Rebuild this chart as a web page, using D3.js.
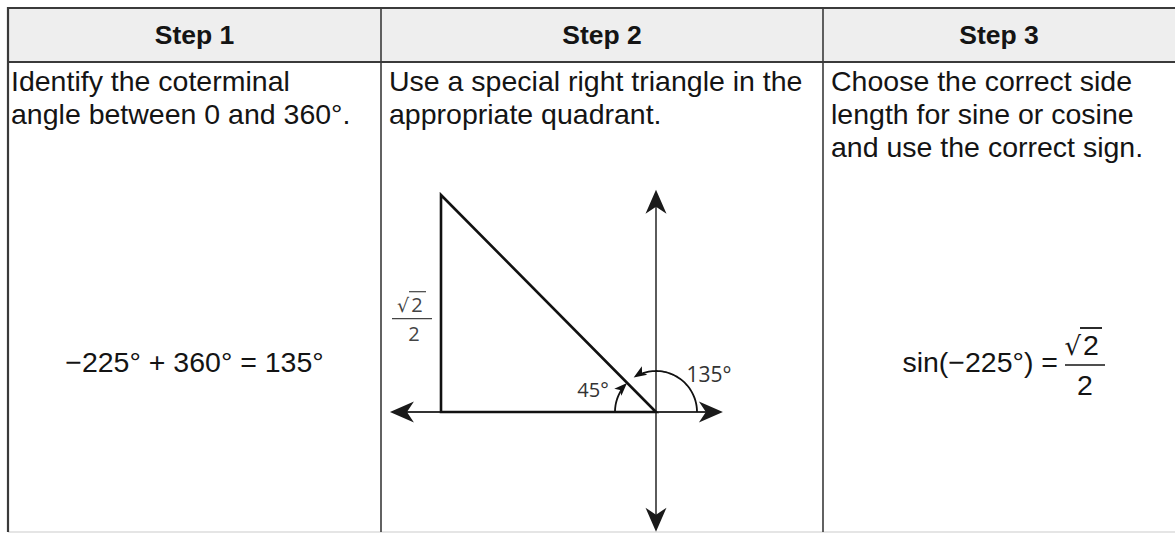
<!DOCTYPE html>
<html>
<head>
<meta charset="utf-8">
<script src="https://cdn.jsdelivr.net/npm/d3@7"></script>
<style>
  html, body { margin: 0; padding: 0; background: #fff; }
  svg { display: block; }
</style>
</head>
<body>
<script>
// ---------------- data ----------------
const steps = ["Step 1", "Step 2", "Step 3"];
const instructions = [
  ["Identify the coterminal", "angle between 0 and 360°."],
  ["Use a special right triangle in the", "appropriate quadrant."],
  ["Choose the correct side", "length for sine or cosine", "and use the correct sign."]
];
const equationStep1 = ["−225°", "+", "360°", "=", "135°"];
const equationStep3Left = "sin(−225°) =";
const fractionParts = ["2", "2"];          // √2 over 2
const triangleLeg = [Math.SQRT1_2];         // leg length √2/2 of the special right triangle
const referenceAngle = [45];                // degrees
const terminalAngle = [135];                // degrees
const angleLabels = ["45°", "135°"];
const axisExtentX = [-0.875, 0.22];         // unit-circle coordinates shown by the axes
const axisExtentY = [-0.39, 0.724];

// ---------------- layout ----------------
const W = 1175, H = 538;
const colEdges = [8, 381, 823, 1175];
const textStarts = [11, 389, 831];
const tableTop = 8, headerBottom = 62, tableBottom = 532;
const bodyFont = "'Liberation Sans', Arial, Helvetica, sans-serif";
const labelFont = "'Open Sans', 'Liberation Sans', sans-serif";
const ink = "#141414";
const bodySize = 28.5;

const svg = d3.select("body").append("svg")
  .attr("width", W).attr("height", H)
  .attr("viewBox", `0 0 ${W} ${H}`);

svg.append("rect").attr("width", W).attr("height", H).attr("fill", "#fff");

// header background
svg.append("rect")
  .attr("x", colEdges[0]).attr("y", tableTop)
  .attr("width", W - colEdges[0]).attr("height", headerBottom - tableTop)
  .attr("fill", "#eeeeee");

// bottom faint line
svg.append("line")
  .attr("x1", colEdges[0]).attr("x2", W).attr("y1", tableBottom).attr("y2", tableBottom)
  .attr("stroke", "#dcdcdc").attr("stroke-width", 1.5);

// horizontal rules
[tableTop, headerBottom].forEach(yy => {
  svg.append("line")
    .attr("x1", colEdges[0]).attr("x2", W).attr("y1", yy).attr("y2", yy)
    .attr("stroke", "#3a3a3a").attr("stroke-width", 2);
});

// vertical rules
colEdges.slice(0, 3).forEach((xx, i) => {
  svg.append("line")
    .attr("x1", xx).attr("x2", xx).attr("y1", tableTop - 1).attr("y2", tableBottom)
    .attr("stroke", "#3a3a3a").attr("stroke-width", i === 0 ? 2.2 : 1.6);
});

// header labels
svg.selectAll("text.head").data(steps).join("text")
  .attr("class", "head")
  .attr("x", (d, i) => (colEdges[i] + colEdges[i + 1]) / 2)
  .attr("y", 44)
  .attr("text-anchor", "middle")
  .attr("font-family", bodyFont).attr("font-weight", "bold")
  .attr("font-size", 26.5).attr("fill", ink)
  .text(d => d);

// instructions
const lineH = 33;
instructions.forEach((lines, i) => {
  svg.append("g").selectAll("text").data(lines).join("text")
    .attr("x", textStarts[i])
    .attr("y", (d, j) => 91 + j * lineH)
    .attr("font-family", bodyFont).attr("font-size", bodySize).attr("fill", ink)
    .text(d => d);
});

// Step 1 equation
svg.append("text")
  .attr("x", (colEdges[0] + colEdges[1]) / 2).attr("y", 372)
  .attr("text-anchor", "middle")
  .attr("font-family", bodyFont).attr("font-size", bodySize).attr("fill", ink)
  .attr("xml:space", "preserve")
  .text(equationStep1.join(" "));

// Step 3 equation
{
  const baseY = 372;
  const leftEnd = 1058;
  svg.append("text")
    .attr("x", leftEnd).attr("y", baseY)
    .attr("text-anchor", "end")
    .attr("font-family", bodyFont).attr("font-size", bodySize).attr("fill", ink)
    .text(equationStep3Left);
  const fx = 1085, barY = 365;
  svg.append("line")
    .attr("x1", fx - 20).attr("x2", fx + 20).attr("y1", barY).attr("y2", barY)
    .attr("stroke", ink).attr("stroke-width", 1.6);
  svg.append("text")
    .attr("x", fx - 4).attr("y", 355).attr("text-anchor", "end")
    .attr("font-family", "'DejaVu Sans', sans-serif").attr("font-size", 26).attr("fill", ink)
    .text("√");
  svg.append("line")
    .attr("x1", fx - 5).attr("x2", fx + 17).attr("y1", 328).attr("y2", 328)
    .attr("stroke", ink).attr("stroke-width", 1.8);
  svg.append("text")
    .attr("x", fx + 6).attr("y", 355).attr("text-anchor", "middle")
    .attr("font-family", bodyFont).attr("font-size", bodySize).attr("fill", ink)
    .text(fractionParts[0]);
  svg.append("text")
    .attr("x", fx).attr("y", 395).attr("text-anchor", "middle")
    .attr("font-family", bodyFont).attr("font-size", bodySize).attr("fill", ink)
    .text(fractionParts[1]);
}

// ---------------- Step 2 diagram ----------------
const leg = triangleLeg[0];
const x = d3.scaleLinear().domain([-leg, 0]).range([441, 656]);
const y = d3.scaleLinear().domain([0, leg]).range([412, 195]);
const ox = x(0), oy = y(0);
const g = svg.append("g");

function arrowHead(tx, ty, dirX, dirY, len, halfW, notch) {
  const n = Math.hypot(dirX, dirY); dirX /= n; dirY /= n;
  const px = -dirY, py = dirX;
  const bx = tx - dirX * len, by = ty - dirY * len;
  const nx = tx - dirX * (len - notch), ny = ty - dirY * (len - notch);
  return `M${tx},${ty}L${bx + px * halfW},${by + py * halfW}L${nx},${ny}L${bx - px * halfW},${by - py * halfW}Z`;
}

// axes
g.append("line")
  .attr("x1", x(axisExtentX[0]) + 10).attr("x2", x(axisExtentX[1]) - 10)
  .attr("y1", oy).attr("y2", oy)
  .attr("stroke", "#333").attr("stroke-width", 1.8);
g.append("line")
  .attr("x1", ox).attr("x2", ox)
  .attr("y1", y(axisExtentY[1]) + 10).attr("y2", y(axisExtentY[0]) - 10)
  .attr("stroke", "#333").attr("stroke-width", 1.6);
const axisArrows = [
  [x(axisExtentX[0]), oy, -1, 0],
  [x(axisExtentX[1]), oy, 1, 0],
  [ox, y(axisExtentY[1]), 0, -1],
  [ox, y(axisExtentY[0]), 0, 1]
];
g.selectAll("path.axarrow").data(axisArrows).join("path")
  .attr("class", "axarrow")
  .attr("d", d => arrowHead(d[0], d[1], d[2], d[3], 24, 10.5, 7))
  .attr("fill", "#1a1a1a");

// triangle
const tri = [[-leg, 0], [-leg, leg], [0, 0]];
g.append("path")
  .attr("d", d3.line().x(d => x(d[0])).y(d => y(d[1]))(tri) + "Z")
  .attr("fill", "none").attr("stroke", "#111").attr("stroke-width", 2.6)
  .attr("stroke-linejoin", "miter");

// angle arcs
const rPix = 41;
function arcPoints(a0, a1) {
  const pts = [];
  const nSeg = 40;
  for (let k = 0; k <= nSeg; k++) {
    const a = (a0 + (a1 - a0) * k / nSeg) * Math.PI / 180;
    pts.push([ox + rPix * Math.cos(a), oy - rPix * Math.sin(a)]);
  }
  return pts;
}
function drawAngleArc(a0, aTip, headLen) {
  const dirSign = Math.sign(aTip - a0);
  const tipRad = aTip * Math.PI / 180;
  const tip = [ox + rPix * Math.cos(tipRad), oy - rPix * Math.sin(tipRad)];
  const dx = -Math.sin(tipRad) * dirSign, dy = -Math.cos(tipRad) * dirSign;
  const backAngle = aTip - dirSign * (headLen / rPix) * 180 / Math.PI * 0.8;
  g.append("path")
    .attr("d", d3.line()(arcPoints(a0, backAngle)))
    .attr("fill", "none").attr("stroke", "#111").attr("stroke-width", 1.8);
  g.append("path")
    .attr("d", arrowHead(tip[0], tip[1], dx, dy, headLen, 5, 3))
    .attr("fill", "#111");
}
drawAngleArc(180, 180 - referenceAngle[0], 13);
drawAngleArc(0, terminalAngle[0] - 12, 13);

// labels
g.append("text")
  .attr("x", 593).attr("y", 397).attr("text-anchor", "middle")
  .attr("font-family", labelFont).attr("font-size", 20).attr("fill", "#333")
  .text(angleLabels[0]);
g.append("text")
  .attr("x", 709).attr("y", 382).attr("text-anchor", "middle")
  .attr("font-family", labelFont).attr("font-size", 21).attr("fill", "#333")
  .text(angleLabels[1]);

// √2/2 side label
{
  const lx = x(-leg) - 29, barY = y(leg * 0.43);
  g.append("line")
    .attr("x1", lx - 20).attr("x2", lx + 20).attr("y1", barY).attr("y2", barY)
    .attr("stroke", "#444").attr("stroke-width", 1.3);
  g.append("text")
    .attr("x", lx - 3).attr("y", barY - 7).attr("text-anchor", "end")
    .attr("font-family", "'DejaVu Sans', sans-serif").attr("font-size", 19).attr("fill", "#444")
    .text("√");
  g.append("line")
    .attr("x1", lx - 3).attr("x2", lx + 14).attr("y1", barY - 27).attr("y2", barY - 27)
    .attr("stroke", "#444").attr("stroke-width", 1.2);
  g.append("text")
    .attr("x", lx + 5).attr("y", barY - 7).attr("text-anchor", "middle")
    .attr("font-family", labelFont).attr("font-size", 20).attr("fill", "#444")
    .text(fractionParts[0]);
  g.append("text")
    .attr("x", lx + 2).attr("y", barY + 22).attr("text-anchor", "middle")
    .attr("font-family", labelFont).attr("font-size", 20).attr("fill", "#444")
    .text(fractionParts[1]);
}
</script>
</body>
</html>
